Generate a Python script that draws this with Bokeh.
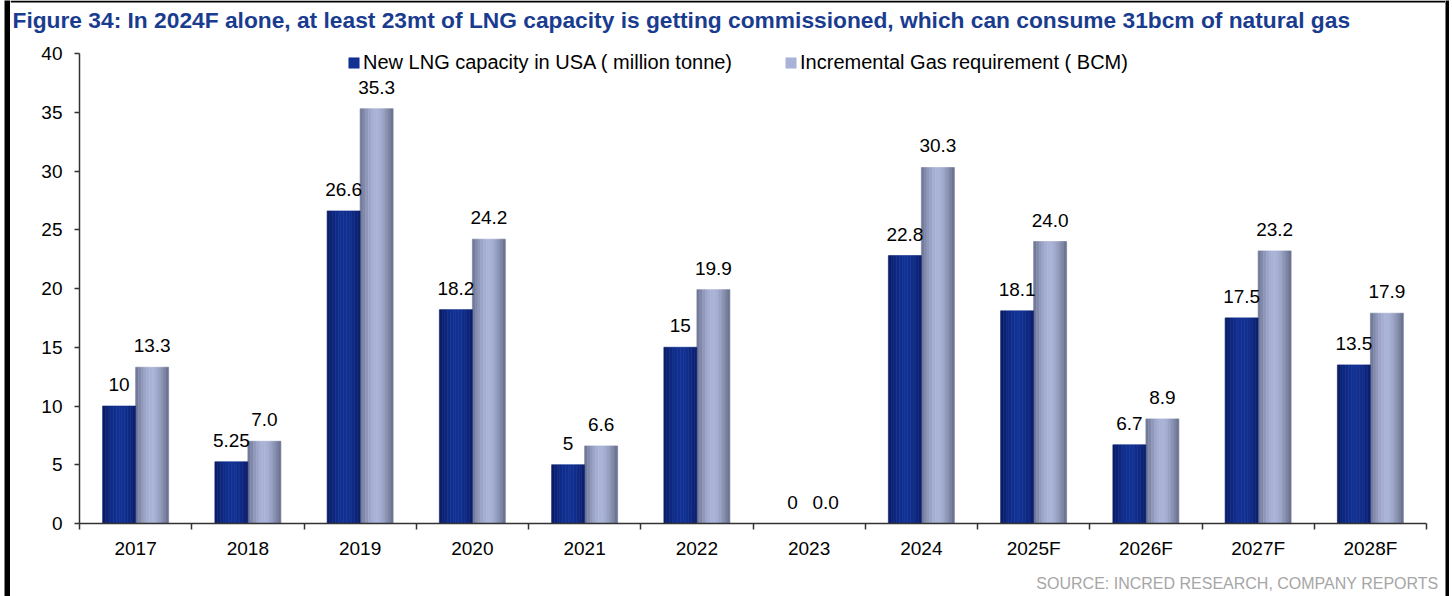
from bokeh.plotting import figure
from bokeh.layouts import row, column
from bokeh.models import (Range1d, FixedTicker, ColumnDataSource, LabelSet, Label,
                          Legend, LegendItem, Spacer)
from bokeh.core.properties import value
from bokeh.embed import file_html
from bokeh.resources import INLINE

# ---------------- data ----------------
years = ["2017", "2018", "2019", "2020", "2021", "2022", "2023", "2024",
         "2025F", "2026F", "2027F", "2028F"]
lng_capacity = [10, 5.25, 26.6, 18.2, 5, 15, 0, 22.8, 18.1, 6.7, 17.5, 13.5]
gas_requirement = [13.3, 7.0, 35.3, 24.2, 6.6, 19.9, 0.0, 30.3, 24.0, 8.9, 23.2, 17.9]
series_names = ["New LNG capacity in USA ( million tonne)",
                "Incremental Gas requirement ( BCM)"]
y_ticks = [0, 5, 10, 15, 20, 25, 30, 35, 40]

title_text = ("Figure 34: In 2024F alone, at least 23mt of LNG capacity is getting "
              "commissioned, which can consume 31bcm of natural gas")
source_text = "SOURCE: INCRED RESEARCH, COMPANY REPORTS"

# ---------------- styles ----------------
FONT = "Liberation Sans"
dark_shades = ["#0a1d68", "#0c2274", "#0e277f", "#0f2b88", "#102e8e", "#113092",
               "#113193", "#113092", "#102e8d", "#0f2a86", "#0d257c", "#0b2070"]
light_shades = ["#737b9b", "#8189aa", "#9098ba", "#9ca5c8", "#a5aed2", "#a9b3d7",
                "#a9b3d7", "#a4add0", "#9aa3c5", "#8d95b6", "#7e86a5", "#6e7593"]
W = 0.294  # bar width in category units
n_strips = len(dark_shades)

# page geometry (page pixels)
PAGE_H = 596
INNER_W = 1435          # width between the left and right page rules (x 10..1445)
TITLE_H = 38            # title strip: page y 0..38
FOOT_TOP = 568          # footer strip: page y 568..596
FOOT_H = PAGE_H - FOOT_TOP
MAIN_H = FOOT_TOP - TITLE_H
x0, y0 = 10, TITLE_H    # page offset of the main chart canvas
AX_TOP, AX_BOTTOM = 53, 523          # page y of the values 40 and 0
FRAME_TOP = 41                        # page y of the frame top (room for the legend)
Y_MAX = y_ticks[-1]
y_end = Y_MAX + (AX_TOP - FRAME_TOP) * Y_MAX / (AX_BOTTOM - AX_TOP)
frame_left, frame_right = 79 - x0, 1426 - x0
frame_top, frame_bottom = FRAME_TOP - y0, AX_BOTTOM - y0


def no_align(f):
    try:
        f.frame_align = False
    except Exception:
        pass


def blank(width, height, fill):
    f = figure(width=width, height=height, output_backend="svg", toolbar_location=None,
               x_axis_location=None, y_axis_location=None, min_border=0,
               x_range=Range1d(0, width), y_range=Range1d(0, height))
    f.outline_line_color = None
    f.background_fill_color = fill
    f.border_fill_color = fill
    f.grid.visible = False
    no_align(f)
    return f


# ---------------- title strip ----------------
t = blank(INNER_W, TITLE_H, "white")
t.quad(left=0, right=INNER_W, bottom=TITLE_H - 2, top=TITLE_H,
       fill_color="black", line_color=None)
t.add_layout(Label(x=12 - x0, y=TITLE_H - 19, text=title_text, text_font=FONT,
                   text_font_size="22.75px", text_font_style="bold",
                   text_color="#1a3c8f", text_baseline="middle",
                   text_align="left"))

# ---------------- footer strip ----------------
ft = blank(INNER_W, FOOT_H, "white")
ft.add_layout(Label(x=1438 - x0, y=PAGE_H - 582.5, text=source_text, text_font=FONT,
                    text_font_size="16px", text_color="#a6a6a6",
                    text_baseline="middle", text_align="right"))

# ---------------- main chart ----------------
p = figure(width=INNER_W, height=MAIN_H, output_backend="svg", toolbar_location=None,
           x_range=Range1d(0, len(years)), y_range=Range1d(0, y_end),
           min_border_left=frame_left, min_border_right=INNER_W - frame_right,
           min_border_top=frame_top, min_border_bottom=MAIN_H - frame_bottom)
no_align(p)
p.outline_line_color = None
p.xgrid.visible = False
p.ygrid.visible = False
p.background_fill_color = "white"
p.border_fill_color = "white"

n = len(years)
centers = [i + 0.5 for i in range(n)]

renderers_dark = []
renderers_light = []
sw = W / n_strips
for k in range(n_strips):
    xd = [c - W + (k + 0.5) * sw for c in centers]
    xl = [c + (k + 0.5) * sw for c in centers]
    rd = p.vbar(x=xd, top=lng_capacity, bottom=0, width=sw,
                fill_color=dark_shades[k], line_color=dark_shades[k], line_width=0.6)
    rl = p.vbar(x=xl, top=gas_requirement, bottom=0, width=sw,
                fill_color=light_shades[k], line_color=light_shades[k], line_width=0.6)
    renderers_dark.append(rd)
    renderers_light.append(rl)

# value labels
src_d = ColumnDataSource(dict(x=[c - W / 2 for c in centers], y=lng_capacity,
                              t=[f"{v:g}" for v in lng_capacity]))
src_l = ColumnDataSource(dict(x=[c + W / 2 for c in centers], y=gas_requirement,
                              t=[f"{v:.1f}" for v in gas_requirement]))
for s in (src_d, src_l):
    p.add_layout(LabelSet(x="x", y="y", text="t", source=s, text_align="center",
                          text_baseline="alphabetic", y_offset=15,
                          text_font=value(FONT), text_font_size=value("19px"),
                          text_color=value("#000000")))

# axes
xax = p.xaxis[0]
xax.ticker = FixedTicker(ticks=centers, minor_ticks=list(range(n + 1)))
xax.major_label_overrides = {c: y for c, y in zip(centers, years)}
xax.major_tick_line_color = None
xax.major_tick_out = 0
xax.major_tick_in = 0
xax.minor_tick_line_color = "#333333"
xax.minor_tick_out = 6
xax.minor_tick_in = 0
xax.minor_tick_line_width = 1.5
xax.axis_line_color = "#333333"
xax.axis_line_width = 1.5
xax.major_label_standoff = 8
xax.major_label_text_font = FONT
xax.major_label_text_font_size = "19px"
xax.major_label_text_color = "#000000"

yax = p.yaxis[0]
yax.ticker = FixedTicker(ticks=y_ticks)
yax.bounds = (0, Y_MAX)
yax.minor_tick_line_color = None
yax.major_tick_out = 5
yax.major_tick_in = 0
yax.major_tick_line_color = "#333333"
yax.major_tick_line_width = 1.5
yax.axis_line_color = "#333333"
yax.axis_line_width = 1.5
yax.major_label_standoff = 12
yax.major_label_text_font = FONT
yax.major_label_text_font_size = "19px"
yax.major_label_text_color = "#000000"

# legend
mid = n_strips // 2
legend = Legend(items=[LegendItem(label=series_names[0], renderers=[renderers_dark[mid]]),
                       LegendItem(label=series_names[1], renderers=[renderers_light[mid]])],
                orientation="horizontal", location=(347 - 79, 449),
                glyph_width=13, glyph_height=13, label_standoff=3, spacing=52,
                padding=0, margin=0, border_line_color=None, background_fill_alpha=0,
                label_text_font=FONT, label_text_font_size="20px",
                label_text_color="#000000")
p.add_layout(legend)

# ---------------- page rules ----------------
left_rule = blank(6, PAGE_H, "black")
right_rule = blank(4, PAGE_H, "black")

page = row(Spacer(width=4, height=PAGE_H), left_rule, column(t, p, ft), right_rule,
           Spacer(width=3, height=PAGE_H))

open("out.html", "w").write(file_html(page, INLINE))
